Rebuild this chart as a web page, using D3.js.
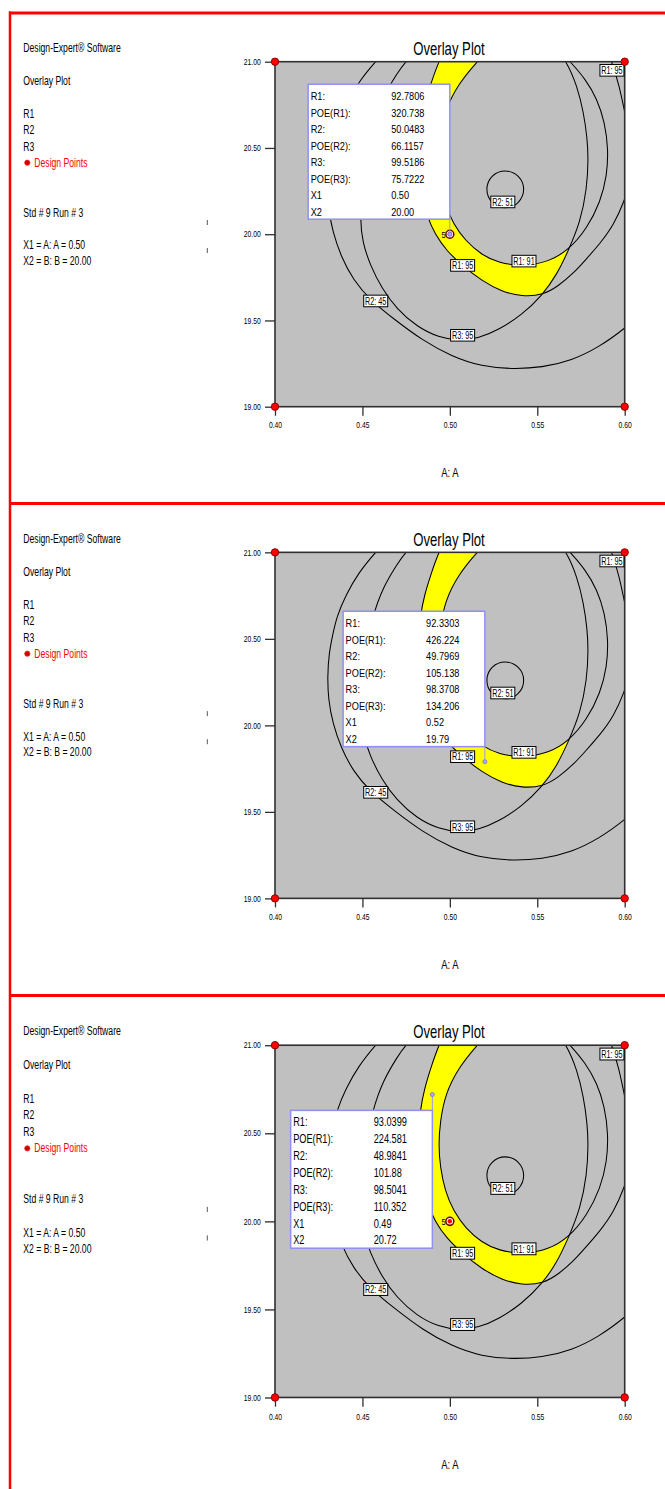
<!DOCTYPE html>
<html>
<head>
<meta charset="utf-8">
<script src="https://cdn.jsdelivr.net/npm/d3@7"></script>
<style>
  body { margin: 0; background: #fff; }
  svg { display: block; }
</style>
</head>
<body>
<svg id="chart" width="665" height="1489"></svg>
<script>
// ---- Factor axes -------------------------------------------------------
const xDomain = [0.40, 0.60];            // A: A
const yDomain = [19.00, 21.00];          // B: B
const xTicks = [0.40, 0.45, 0.50, 0.55, 0.60];
const yTicks = [19.00, 19.50, 20.00, 20.50, 21.00];
const xTitle = "A: A";
const plotTitle = "Overlay Plot";

// ---- Contour lines, as [A, B] points -----------------------------------
const r1_95 = [[0.5431,21.285],[0.5622,21.266],[0.5775,21.208],[0.5880,21.112],[0.5927,21.000],
  [0.5969,20.861],[0.6000,20.707],[0.6029,20.572],[0.6042,20.437],[0.6031,20.302],[0.6000,20.198],
  [0.5937,20.052],[0.5859,19.946],[0.5775,19.850],[0.5706,19.773],[0.5622,19.701],[0.5534,19.647],
  [0.5412,19.638],[0.5298,19.667],[0.5183,19.730],[0.5073,19.817],[0.4983,19.902],[0.4914,20.000],
  [0.4868,20.110],[0.4836,20.235],[0.4821,20.370],[0.4821,20.495],[0.4830,20.630],[0.4855,20.755],
  [0.4891,20.871],[0.4935,21.000],[0.5002,21.131],[0.5126,21.218],[0.5279,21.270]];
const r1_91 = [[0.5422,21.116],[0.5603,21.089],[0.5689,21.000],[0.5775,20.900],[0.5842,20.784],
  [0.5886,20.649],[0.5906,20.495],[0.5899,20.341],[0.5861,20.187],[0.5784,20.033],[0.5679,19.908],
  [0.5565,19.840],[0.5422,19.813],[0.5279,19.834],[0.5183,19.879],[0.5088,19.963],[0.5021,20.058],
  [0.4973,20.171],[0.4945,20.306],[0.4935,20.437],[0.4945,20.568],[0.4973,20.721],[0.5050,20.873],
  [0.5155,21.000],[0.5240,21.089]];
const r2_51 = [[0.5317,20.366],[0.5391,20.335],[0.5422,20.260],[0.5391,20.185],[0.5317,20.154],
  [0.5242,20.185],[0.5212,20.260],[0.5242,20.335]];
const r2_45 = [[0.5355,21.387],[0.5660,21.343],[0.5927,21.218],[0.6156,20.996],[0.6328,20.688],
  [0.6405,20.302],[0.6347,19.936],[0.6195,19.628],[0.6000,19.451],[0.5851,19.345],[0.5698,19.268],
  [0.5527,19.227],[0.5355,19.218],[0.5183,19.233],[0.5011,19.291],[0.4840,19.387],[0.4687,19.503],
  [0.4544,19.618],[0.4448,19.734],[0.4378,19.869],[0.4330,20.013],[0.4305,20.148],[0.4300,20.283],
  [0.4309,20.418],[0.4328,20.514],[0.4353,20.630],[0.4406,20.755],[0.4477,20.881],[0.4573,21.000],
  [0.4687,21.121],[0.4859,21.247],[0.5088,21.343]];
const r3_95 = [[0.5202,21.227],[0.5393,21.208],[0.5565,21.141],[0.5670,21.000],[0.5727,20.861],
  [0.5765,20.707],[0.5786,20.553],[0.5792,20.437],[0.5784,20.264],[0.5746,20.071],[0.5679,19.908],
  [0.5613,19.767],[0.5527,19.644],[0.5412,19.532],[0.5279,19.445],[0.5164,19.397],[0.5059,19.381],
  [0.4935,19.401],[0.4811,19.464],[0.4697,19.566],[0.4611,19.686],[0.4544,19.821],[0.4500,19.956],
  [0.4487,20.083],[0.4496,20.245],[0.4515,20.418],[0.4557,20.630],[0.4620,20.803],[0.4697,20.929],
  [0.4744,21.000],[0.4859,21.112],[0.5031,21.198]];

// Contour tags: text and the [A, B] spot they sit on
const contourTagText = ["R1: 95", "R2: 51", "R1: 91", "R1: 95", "R2: 45", "R3: 95"];
const contourTagAt = [[0.5927,20.950],[0.5303,20.187],[0.5424,19.844],[0.5073,19.819],[0.4576,19.613],[0.5073,19.414]];

// ---- Design points ------------------------------------------------------
const factorialPoints = [[0.40,19.00],[0.60,19.00],[0.40,21.00],[0.60,21.00]];
const centerPoint = [0.50, 20.00];
const centerReplicates = 5;

// ---- Point predictions shown in each flag ------------------------------
const flagKeys = ["R1:", "POE(R1):", "R2:", "POE(R2):", "R3:", "POE(R3):", "X1", "X2"];
const flagValues = [
  ["92.7806", "320.738", "50.0483", "66.1157", "99.5186", "75.7222", "0.50", "20.00"],
  ["92.3303", "426.224", "49.7969", "105.138", "98.3708", "134.206", "0.52", "19.79"],
  ["93.0399", "224.581", "48.9841", "101.88",  "98.5041", "110.352", "0.49", "20.72"]
];
const flagSide = ["above", "above", "below"];

// ---- Side notes -----------------------------------------------------------
const sideNotes = ["Design-Expert\u00AE Software", "Overlay Plot", "R1", "R2", "R3",
  "Design Points", "Std # 9 Run # 3", "X1 = A: A = 0.50", "X2 = B: B = 20.00"];

// =========================================================================
const svg = d3.select("#chart")
  .attr("font-family", "'Liberation Sans', Arial, Helvetica, sans-serif");

const RED = "#ff0000";
const panelTop = [13, 503.5, 995.5];
const panelStretch = [1, 1.003, 1.021];

const plot = { x0: 275, x1: 624.7, y0: 48.7, y1: 393.7 };
const x = d3.scaleLinear().domain(xDomain).range([plot.x0, plot.x1]);
const y = d3.scaleLinear().domain(yDomain).range([plot.y1, plot.y0]);
// smooth closed spline through the traced points
const smooth = d3.line()
  .x(d => x(d[0])).y(d => y(d[1]))
  .curve(d3.curveBasisClosed);
// the small ring keeps an interpolating spline so it is not shrunk
const ring = d3.line()
  .x(d => x(d[0])).y(d => y(d[1]))
  .curve(d3.curveCatmullRomClosed.alpha(0.5));

const contourLines = [
  { pts: r1_95, gen: smooth }, { pts: r1_91, gen: smooth }, { pts: r2_51, gen: ring },
  { pts: r2_45, gen: smooth }, { pts: r3_95, gen: smooth }
];

function squeezed(g, str, px, py, size, sx, anchor, fill) {
  return g.append("text")
    .attr("transform", `translate(${px},${py}) scale(${sx},1)`)
    .attr("font-size", size)
    .attr("text-anchor", anchor || "start")
    .attr("fill", fill || "#000")
    .text(str);
}

const defs = svg.append("defs");

panelTop.forEach((top, i) => {
  const g = svg.append("g")
    .attr("transform", `translate(0,${top}) scale(1,${panelStretch[i]})`);

  // ---- side notes
  const noteY = [39, 72.3, 105.3, 121.3, 138, 153.7, 203.7, 236.3, 252];
  sideNotes.forEach((s, k) => {
    const isLegend = s === "Design Points";
    squeezed(g, s, isLegend ? 34.3 : 23.3, noteY[k], 12, 0.72, "start", isLegend ? RED : "#000");
  });
  g.append("circle").attr("cx", 27.3).attr("cy", 149.7).attr("r", 2.6)
    .attr("fill", "#d00000").attr("stroke", "#ff2020").attr("stroke-width", 0.8);
  [[207, 212], [235, 240]].forEach(([a, b]) =>
    g.append("line").attr("x1", 207.3).attr("x2", 207.3).attr("y1", a).attr("y2", b)
      .attr("stroke", "#444").attr("stroke-width", 0.9));

  // ---- clip / mask definitions
  const clipPlot = `clip-plot-${i}`, clipR3 = `clip-r3-${i}`, maskR1 = `mask-r1-${i}`;
  defs.append("clipPath").attr("id", clipPlot).append("rect")
    .attr("x", plot.x0).attr("y", plot.y0)
    .attr("width", plot.x1 - plot.x0).attr("height", plot.y1 - plot.y0);
  defs.append("clipPath").attr("id", clipR3).append("path").attr("d", smooth(r3_95));
  const m = defs.append("mask").attr("id", maskR1).attr("maskUnits", "userSpaceOnUse")
    .attr("x", 0).attr("y", -200).attr("width", 900).attr("height", 900);
  m.append("rect").attr("x", 0).attr("y", -200).attr("width", 900).attr("height", 900).attr("fill", "#fff");
  m.append("path").attr("d", smooth(r1_91)).attr("fill", "#000");

  // ---- plot background
  g.append("rect").attr("x", plot.x0).attr("y", plot.y0)
    .attr("width", plot.x1 - plot.x0).attr("height", plot.y1 - plot.y0)
    .attr("fill", "#c0c0c0");

  const inner = g.append("g").attr("clip-path", `url(#${clipPlot})`);

  // feasible window: 91 <= R1 <= 95 and R3 >= 95
  inner.append("g").attr("clip-path", `url(#${clipR3})`)
    .append("path").attr("d", smooth(r1_95))
    .attr("fill", "#ffff00").attr("mask", `url(#${maskR1})`);

  // contour lines
  inner.selectAll("path.contour").data(contourLines).join("path")
    .attr("class", "contour")
    .attr("d", d => d.gen(d.pts))
    .attr("fill", "none").attr("stroke", "#000").attr("stroke-width", 1.05);

  // frame
  g.append("rect").attr("x", plot.x0).attr("y", plot.y0)
    .attr("width", plot.x1 - plot.x0).attr("height", plot.y1 - plot.y0)
    .attr("fill", "none").attr("stroke", "#303030").attr("stroke-width", 1.6);

  // axes
  const ax = g.append("g").attr("transform", `translate(0,${plot.y1})`)
    .call(d3.axisBottom(x).tickValues(xTicks).tickFormat(d3.format(".2f"))
      .tickSize(9).tickSizeOuter(0));
  ax.select(".domain").remove();
  ax.selectAll("line").attr("stroke", "#303030").attr("stroke-width", 1.3);
  ax.selectAll("text").attr("dy", null).attr("y", 21.6)
    .attr("transform", "scale(0.77,1)").attr("font-size", 8.8)
    .attr("font-family", null).attr("fill", "#000");

  const ay = g.append("g").attr("transform", `translate(${plot.x0},0)`)
    .call(d3.axisLeft(y).tickValues(yTicks).tickFormat(d3.format(".2f"))
      .tickSize(10).tickSizeOuter(0));
  ay.select(".domain").remove();
  ay.selectAll("line").attr("stroke", "#303030").attr("stroke-width", 1.3);
  ay.selectAll("text").attr("x", null).attr("dy", "0.3em")
    .attr("transform", "translate(-14.3,0) scale(0.77,1)").attr("font-size", 8.8)
    .attr("font-family", null).attr("fill", "#000");

  squeezed(g, xTitle, (plot.x0 + plot.x1) / 2, 463.7, 13, 0.73, "middle");
  squeezed(g, plotTitle, 449, 42, 18.5, 0.71, "middle");

  // contour tags
  contourTagAt.forEach((p, k) => {
    const t = g.append("g").attr("transform", `translate(${x(p[0])},${y(p[1])})`);
    t.append("rect").attr("x", -12).attr("y", -5.8).attr("width", 24).attr("height", 11.6)
      .attr("fill", "#fff").attr("stroke", "#000").attr("stroke-width", 1);
    squeezed(t, contourTagText[k], 0, 3.8, 10.5, 0.69, "middle");
  });

  // design points
  g.selectAll("circle.fp").data(factorialPoints).join("circle")
    .attr("class", "fp")
    .attr("cx", d => x(d[0])).attr("cy", d => y(d[1])).attr("r", 3.7)
    .attr("fill", "#ff0000").attr("stroke", "#7a0000").attr("stroke-width", 0.9);
  const cx = x(centerPoint[0]), cy = y(centerPoint[1]);
  squeezed(g, String(centerReplicates), cx - 4.2, cy + 3.3, 9.5, 0.8, "end");
  g.append("circle").attr("cx", cx).attr("cy", cy).attr("r", 4.7).attr("fill", "#6e0000");
  g.append("circle").attr("cx", cx).attr("cy", cy).attr("r", 3.2).attr("fill", "#fff");
  g.append("circle").attr("cx", cx).attr("cy", cy).attr("r", 2.2).attr("fill", "#ff0000");

  // prediction flag
  const vals = flagValues[i];
  const px = x(+vals[6]), py = y(+vals[7]);
  const bw = 141.7, bh = 135;
  const bx = px - bw;
  const by = flagSide[i] === "above" ? py - 15 - bh : py + 15.5;
  g.append("line").attr("x1", px).attr("x2", px)
    .attr("y1", flagSide[i] === "above" ? by + bh : by).attr("y2", py)
    .attr("stroke", "#9a9af0").attr("stroke-width", 1);
  g.append("circle").attr("cx", px).attr("cy", py).attr("r", 2)
    .attr("fill", "#a8a8ff").attr("stroke", "#6a6ad8").attr("stroke-width", 0.7);
  g.append("rect").attr("x", bx).attr("y", by).attr("width", bw).attr("height", bh)
    .attr("fill", "#fff").attr("stroke", "#9090f0").attr("stroke-width", 1.5);
  flagKeys.forEach((k, r) => {
    const ty = by + 15.8 + r * 16.5;
    squeezed(g, k, bx + 2.5, ty, 11.8, 0.78, "start");
    squeezed(g, vals[r], bx + 83, ty, 11.8, 0.78, "start");
  });

  // red separator for this panel
  svg.append("line").attr("x1", 9).attr("x2", 665).attr("y1", top).attr("y2", top)
    .attr("stroke", RED).attr("stroke-width", 3);
});

svg.append("line").attr("x1", 10).attr("x2", 10).attr("y1", 11.5).attr("y2", 1489)
  .attr("stroke", RED).attr("stroke-width", 2.5);
</script>
</body>
</html>
